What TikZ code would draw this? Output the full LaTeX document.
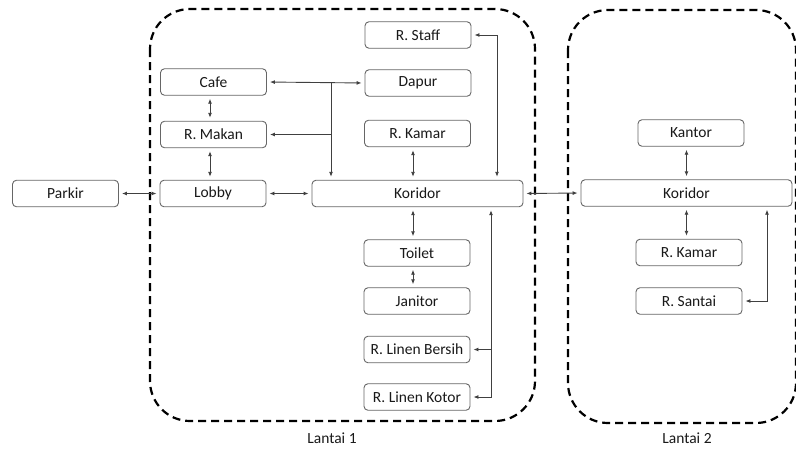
\documentclass[tikz,border=0pt]{standalone}
\usepackage{fontspec}
\setmainfont{Carlito}
\usetikzlibrary{arrows.meta}
\begin{document}
\begin{tikzpicture}[x=1pt,y=-1pt,
  room/.style={draw=black!60, line width=0.9pt, rounded corners=4pt, fill=white,
    minimum width=106pt, minimum height=26.5pt, inner sep=0pt, text=black!90,
    font=\fontsize{15.5}{18}\selectfont},
  wide/.style={room, minimum width=211pt},
  link/.style={draw=black!75, line width=0.9pt},
  tip/.tip={Latex[length=5pt,width=4pt]},
  both/.style={link, {tip}-{tip}, shorten <=3pt, shorten >=3pt},
  one/.style={link, -{tip}, shorten >=3pt},
  zone/.style={draw=black, line width=2.2pt, dash pattern=on 8pt off 5pt, rounded corners=40pt},
  lbl/.style={text=black!90, font=\fontsize{15.5}{18}\selectfont}
]
\useasboundingbox (0,0) rectangle (796,448);
% zones
\draw[zone] (150,9) rectangle (535,421);
\draw[zone] (568,10) rectangle (796,423);
\node[lbl] (l1) at (332,438) {Lantai 1};
\node[lbl] (l2) at (687,438) {Lantai 2};
% rooms floor 1
\node[room] (staff) at (418,35) {R. Staff};
\node[room] (cafe) at (213.5,82) {Cafe};
\node[room] (dapur) at (418,83) {Dapur};
\node[room] (makan) at (213.5,134.5) {R. Makan};
\node[room] (kamar1) at (417.5,133.5) {R. Kamar};
\node[room] (lobby) at (213,193.5) {Lobby};
\node[wide] (kor1) at (417.5,193.5) {Koridor};
\node[room] (parkir) at (65.5,193.5) {Parkir};
\node[room] (toilet) at (417,253) {Toilet};
\node[room] (janitor) at (417,301) {Janitor};
\node[room] (bersih) at (417,349.5) {R. Linen Bersih};
\node[room] (kotor) at (417,397) {R. Linen Kotor};
% rooms floor 2
\node[room] (kantor) at (691,133) {Kantor};
\node[wide] (kor2) at (686.5,193) {Koridor};
\node[room] (kamar2) at (689,252.5) {R. Kamar};
\node[room] (santai) at (689,301) {R. Santai};
% helper coordinates
\coordinate (j1) at (331,83);
\coordinate (sx) at (497,35);
\coordinate (lx) at (491,397);
\coordinate (sx2) at (767,301);
\coordinate (v1) at (210,0);
\coordinate (v2) at (413,0);
% connectors floor 1
\draw[both] (parkir.east) -- (lobby.west);
\draw[both] (lobby.east) -- (kor1.west);
\draw[both] (cafe.south -| v1) -- (makan.north -| v1);
\draw[both] (makan.south -| v1) -- (lobby.north -| v1);
\draw[both] (cafe.east) -- (dapur.west);
\draw[one] (j1) -- (kor1.north -| j1);
\draw[one] (j1 |- makan.east) -- (makan.east);
\draw[both] (kamar1.south -| v2) -- (kor1.north -| v2);
\draw[both] (staff.east) -| (kor1.north -| sx);
\draw[both] (kor1.south -| v2) -- (toilet.north -| v2);
\draw[both] (toilet.south -| v2) -- (janitor.north -| v2);
\draw[both] (kor1.south -| lx) |- (kotor.east);
\draw[one] (lx |- bersih.east) -- (bersih.east);
% between floors
\draw[both] (kor1.east) -- (kor2.west);
% connectors floor 2
\draw[both] (kantor.south -| kor2) -- (kor2.north);
\draw[both] (kor2.south) -- (kamar2.north -| kor2);
\draw[both] (kor2.south -| sx2) |- (santai.east);
\end{tikzpicture}
\end{document}
